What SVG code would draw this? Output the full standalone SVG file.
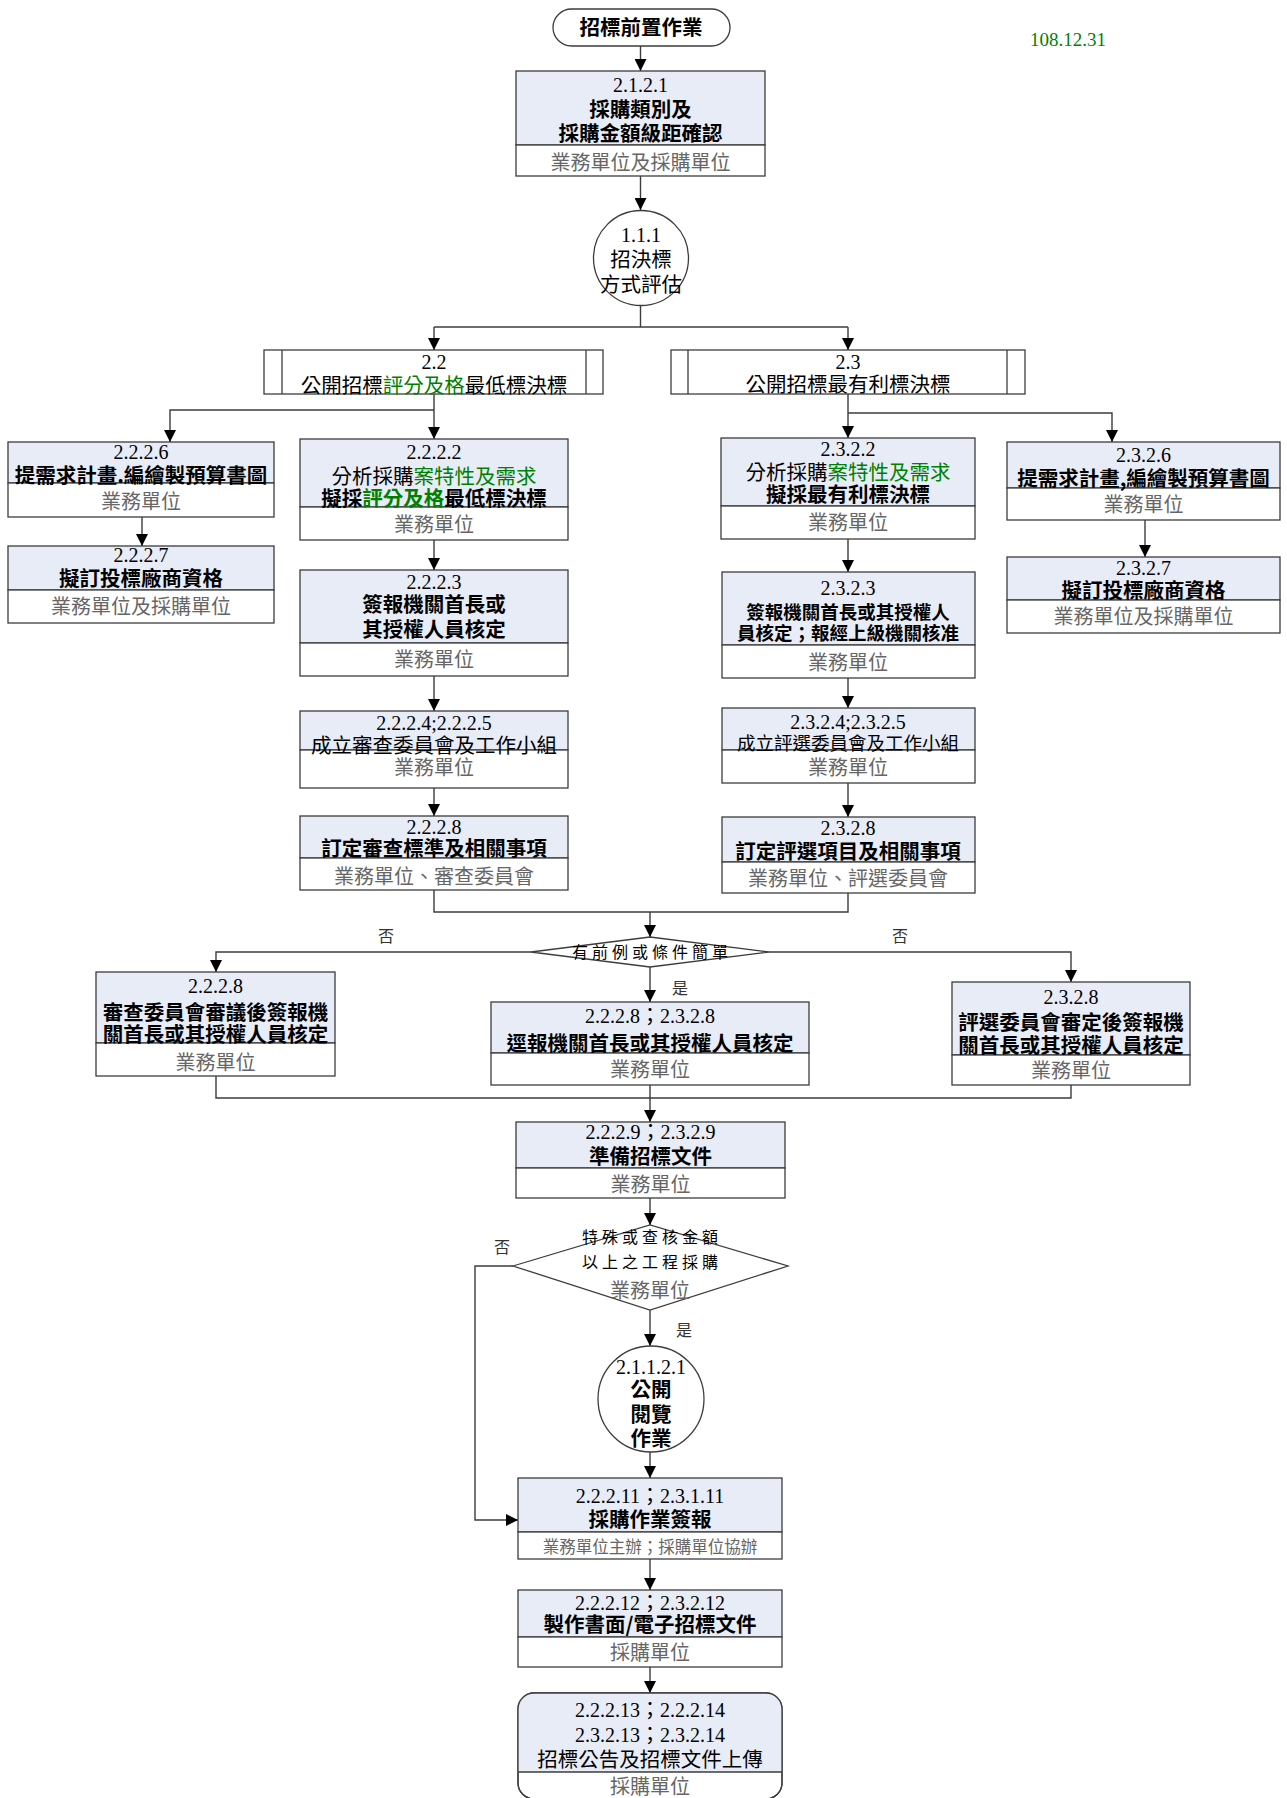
<svg xmlns="http://www.w3.org/2000/svg" width="1287" height="1798" viewBox="0 0 1287 1798">
<style>
.bg{fill:#ffffff}
.top{fill:#E7ECF7;stroke:#3c3c3c;stroke-width:1.3}
.bot{fill:#ffffff;stroke:#3c3c3c;stroke-width:1.3}
.frm{fill:none;stroke:#3c3c3c;stroke-width:1.3}
.ln{fill:none;stroke:#3c3c3c;stroke-width:1.4}
.ar{fill:none;stroke:#3c3c3c;stroke-width:1.4;marker-end:url(#ah)}
text{text-anchor:middle}
.n{font-family:"Liberation Serif","Noto Sans CJK TC",serif;font-size:20px;fill:#000}
.t{font-family:"Noto Sans CJK TC","Liberation Sans",sans-serif;font-size:20.5px;fill:#000}
.b{font-weight:bold}
.s{font-size:18.5px}
.u{font-family:"Noto Sans CJK TC","Liberation Sans",sans-serif;font-size:20px;fill:#666}
.us{font-size:16.5px}
.g{fill:#008000}
.d{font-family:"Noto Sans CJK TC","Liberation Serif",sans-serif;font-size:16px;letter-spacing:4px;fill:#000}
.lb{font-family:"Noto Sans CJK TC","Liberation Serif",sans-serif;font-size:16px;fill:#333}
</style>
<defs>
<marker id="ah" viewBox="0 0 10 10" refX="10" refY="5" markerWidth="12" markerHeight="12" markerUnits="userSpaceOnUse" orient="auto">
<path d="M0,0 L10,5 L0,10 z" fill="#000"/>
</marker>
</defs>
<rect class="bg" x="0" y="0" width="1287" height="1798"/>

<text x="1068" y="46" font-family="Liberation Serif, serif" font-size="19" fill="#008000">108.12.31</text>

<g id="connectors">
<path class="ar" d="M640.5,46 V71"/>
<path class="ar" d="M640.5,176 V210"/>
<path class="ln" d="M640.5,305 V327"/>
<path class="ln" d="M434,327 H848"/>
<path class="ar" d="M434,327 V350"/>
<path class="ar" d="M848,327 V350"/>
<path class="ar" d="M434,394 V439"/>
<path class="ar" d="M434,410 H170 V442"/>
<path class="ar" d="M848,394 V438"/>
<path class="ar" d="M848,413 H1112 V442"/>
<path class="ar" d="M142,517 V546"/>
<path class="ar" d="M1145,520 V557"/>
<path class="ar" d="M434,540 V570"/>
<path class="ar" d="M434,676 V711"/>
<path class="ar" d="M434,788 V816"/>
<path class="ar" d="M848,539 V572"/>
<path class="ar" d="M848,678 V708"/>
<path class="ar" d="M848,783 V817"/>
<path class="ln" d="M434,890 V912 H848 V893"/>
<path class="ar" d="M650,912 V937"/>
<path class="ar" d="M531,952 H216 V972"/>
<path class="ar" d="M769,952 H1071 V982"/>
<path class="ar" d="M650,967 V1002"/>
<path class="ln" d="M216,1076 V1098 H1071 V1085"/>
<path class="ar" d="M650,1085 V1122"/>
<path class="ar" d="M650,1198 V1225"/>
<path class="ar" d="M513,1266 H475 V1520 H518"/>
<path class="ar" d="M650,1310 V1346"/>
<path class="ar" d="M650,1452 V1478"/>
<path class="ar" d="M650,1559 V1590"/>
<path class="ar" d="M650,1667 V1693"/>
<text class="lb" x="386" y="942">否</text>
<text class="lb" x="900" y="942">否</text>
<text class="lb" x="680" y="994">是</text>
<text class="lb" x="502" y="1253">否</text>
<text class="lb" x="684" y="1336">是</text>
</g>

<g id="start">
<rect class="frm" x="553" y="9" width="177" height="37" rx="18.5" fill="#fff"/>
<text class="t b" x="641" y="35">招標前置作業</text>
</g>

<g id="n2121">
<rect class="top" x="516" y="71" width="249" height="74"/>
<rect class="bot" x="516" y="145" width="249" height="31"/>
<text class="n" x="640.5" y="92">2.1.2.1</text>
<text class="t b" x="640.5" y="117">採購類別及</text>
<text class="t b" x="640.5" y="141">採購金額級距確認</text>
<text class="u" x="640.5" y="170">業務單位及採購單位</text>
</g>

<g id="c111">
<circle class="bot" cx="641" cy="258" r="47.5"/>
<text class="n" x="641" y="242">1.1.1</text>
<text class="t" x="641" y="267">招決標</text>
<text class="t" x="641" y="292">方式評估</text>
</g>

<g id="n22">
<rect class="bot" x="264" y="350" width="339" height="44"/>
<line class="frm" x1="282" y1="350" x2="282" y2="394"/>
<line class="frm" x1="586" y1="350" x2="586" y2="394"/>
<text class="n" x="434" y="369">2.2</text>
<text class="t" x="434" y="393">公開招標<tspan class="g">評分及格</tspan>最低標決標</text>
</g>

<g id="n23">
<rect class="bot" x="671" y="350" width="354" height="44"/>
<line class="frm" x1="688" y1="350" x2="688" y2="394"/>
<line class="frm" x1="1007" y1="350" x2="1007" y2="394"/>
<text class="n" x="848" y="369">2.3</text>
<text class="t" x="848" y="392">公開招標最有利標決標</text>
</g>

<g id="n2226">
<rect class="top" x="8" y="442" width="266" height="41"/>
<rect class="bot" x="8" y="483" width="266" height="34"/>
<text class="n" x="141" y="459">2.2.2.6</text>
<text class="t b" x="141" y="483">提需求計畫.編繪製預算書圖</text>
<text class="u" x="141" y="509">業務單位</text>
</g>

<g id="n2227">
<rect class="top" x="8" y="546" width="266" height="44"/>
<rect class="bot" x="8" y="590" width="266" height="33"/>
<text class="n" x="141" y="562">2.2.2.7</text>
<text class="t b" x="141" y="586">擬訂投標廠商資格</text>
<text class="u" x="141" y="614">業務單位及採購單位</text>
</g>

<g id="n2222">
<rect class="top" x="300" y="439" width="268" height="68"/>
<rect class="bot" x="300" y="507" width="268" height="33"/>
<text class="n" x="434" y="459">2.2.2.2</text>
<text class="t" x="434" y="484">分析採購<tspan class="g">案特性及需求</tspan></text>
<text class="t b" x="434" y="506">擬採<tspan class="g">評分及格</tspan>最低標決標</text>
<text class="u" x="434" y="532">業務單位</text>
</g>

<g id="n2223">
<rect class="top" x="300" y="570" width="268" height="73"/>
<rect class="bot" x="300" y="643" width="268" height="33"/>
<text class="n" x="434" y="589">2.2.2.3</text>
<text class="t b" x="434" y="612">簽報機關首長或</text>
<text class="t b" x="434" y="637">其授權人員核定</text>
<text class="u" x="434" y="667">業務單位</text>
</g>

<g id="n2224">
<rect class="top" x="300" y="711" width="268" height="39"/>
<rect class="bot" x="300" y="750" width="268" height="38"/>
<text class="n" x="434" y="730">2.2.2.4;2.2.2.5</text>
<text class="t" x="434" y="753">成立審查委員會及工作小組</text>
<text class="u" x="434" y="775">業務單位</text>
</g>

<g id="n2228">
<rect class="top" x="300" y="816" width="268" height="42"/>
<rect class="bot" x="300" y="858" width="268" height="32"/>
<text class="n" x="434" y="834">2.2.2.8</text>
<text class="t b" x="434" y="856">訂定審查標準及相關事項</text>
<text class="u" x="434" y="884">業務單位、審查委員會</text>
</g>

<g id="n2322">
<rect class="top" x="721" y="438" width="254" height="68"/>
<rect class="bot" x="721" y="506" width="254" height="33"/>
<text class="n" x="848" y="456">2.3.2.2</text>
<text class="t" x="848" y="480">分析採購<tspan class="g">案特性及需求</tspan></text>
<text class="t b" x="848" y="502">擬採最有利標決標</text>
<text class="u" x="848" y="530">業務單位</text>
</g>

<g id="n2323">
<rect class="top" x="722" y="572" width="253" height="73"/>
<rect class="bot" x="722" y="645" width="253" height="33"/>
<text class="n" x="848" y="595">2.3.2.3</text>
<text class="t b s" x="848" y="619">簽報機關首長或其授權人</text>
<text class="t b s" x="848" y="640">員核定；報經上級機關核准</text>
<text class="u" x="848" y="670">業務單位</text>
</g>

<g id="n2324">
<rect class="top" x="722" y="708" width="253" height="42"/>
<rect class="bot" x="722" y="750" width="253" height="33"/>
<text class="n" x="848" y="729">2.3.2.4;2.3.2.5</text>
<text class="t s" x="848" y="750">成立評選委員會及工作小組</text>
<text class="u" x="848" y="775">業務單位</text>
</g>

<g id="n2328">
<rect class="top" x="722" y="817" width="253" height="45"/>
<rect class="bot" x="722" y="862" width="253" height="31"/>
<text class="n" x="848" y="835">2.3.2.8</text>
<text class="t b" x="848" y="859">訂定評選項目及相關事項</text>
<text class="u" x="848" y="886">業務單位、評選委員會</text>
</g>

<g id="n2326">
<rect class="top" x="1007" y="442" width="273" height="46"/>
<rect class="bot" x="1007" y="488" width="273" height="32"/>
<text class="n" x="1143.5" y="462">2.3.2.6</text>
<text class="t b" x="1143.5" y="486">提需求計畫,編繪製預算書圖</text>
<text class="u" x="1143.5" y="512">業務單位</text>
</g>

<g id="n2327">
<rect class="top" x="1007" y="557" width="273" height="43"/>
<rect class="bot" x="1007" y="600" width="273" height="33"/>
<text class="n" x="1143.5" y="575">2.3.2.7</text>
<text class="t b" x="1143.5" y="598">擬訂投標廠商資格</text>
<text class="u" x="1143.5" y="624">業務單位及採購單位</text>
</g>

<g id="d1">
<polygon class="bot" points="531,952 650,937 769,952 650,967"/>
<text class="d" x="652" y="958">有前例或條件簡單</text>
</g>

<g id="n2228b">
<rect class="top" x="96" y="972" width="239" height="71"/>
<rect class="bot" x="96" y="1043" width="239" height="33"/>
<text class="n" x="215.5" y="993">2.2.2.8</text>
<text class="t b" x="215.5" y="1020">審查委員會審議後簽報機</text>
<text class="t b" x="215.5" y="1042">關首長或其授權人員核定</text>
<text class="u" x="215.5" y="1070">業務單位</text>
</g>

<g id="nmid">
<rect class="top" x="491" y="1002" width="318" height="51"/>
<rect class="bot" x="491" y="1053" width="318" height="32"/>
<text class="n" x="650" y="1023">2.2.2.8；2.3.2.8</text>
<text class="t b" x="650" y="1051">逕報機關首長或其授權人員核定</text>
<text class="u" x="650" y="1077">業務單位</text>
</g>

<g id="n2328b">
<rect class="top" x="952" y="982" width="238" height="73"/>
<rect class="bot" x="952" y="1055" width="238" height="30"/>
<text class="n" x="1071" y="1004">2.3.2.8</text>
<text class="t b" x="1071" y="1030">評選委員會審定後簽報機</text>
<text class="t b" x="1071" y="1053">關首長或其授權人員核定</text>
<text class="u" x="1071" y="1078">業務單位</text>
</g>

<g id="n2229">
<rect class="top" x="516" y="1122" width="269" height="46"/>
<rect class="bot" x="516" y="1168" width="269" height="30"/>
<text class="n" x="650.5" y="1139">2.2.2.9；2.3.2.9</text>
<text class="t b" x="650.5" y="1164">準備招標文件</text>
<text class="u" x="650.5" y="1192">業務單位</text>
</g>

<g id="d2">
<polygon class="bot" points="513,1266 650,1225 788,1266 650,1310"/>
<text class="d" x="652" y="1243">特殊或查核金額</text>
<text class="d" x="652" y="1268">以上之工程採購</text>
<text class="u" x="650" y="1298">業務單位</text>
</g>

<g id="c21121">
<circle class="bot" cx="651" cy="1399" r="53"/>
<text class="n" x="651" y="1374">2.1.1.2.1</text>
<text class="t b" x="651" y="1397">公開</text>
<text class="t b" x="651" y="1422">閱覽</text>
<text class="t b" x="651" y="1446">作業</text>
</g>

<g id="n22211">
<rect class="top" x="518" y="1478" width="264" height="54"/>
<rect class="bot" x="518" y="1532" width="264" height="27"/>
<text class="n" x="650" y="1503">2.2.2.11；2.3.1.11</text>
<text class="t b" x="650" y="1527">採購作業簽報</text>
<text class="u us" x="650" y="1553">業務單位主辦；採購單位協辦</text>
</g>

<g id="n22212">
<rect class="top" x="518" y="1590" width="264" height="47"/>
<rect class="bot" x="518" y="1637" width="264" height="30"/>
<text class="n" x="650" y="1610">2.2.2.12；2.3.2.12</text>
<text class="t b" x="650" y="1632">製作書面/電子招標文件</text>
<text class="u" x="650" y="1660">採購單位</text>
</g>

<g id="n22213">
<rect class="bot" x="518" y="1693" width="264" height="106" rx="16"/>
<path d="M518,1772 V1709 Q518,1693 534,1693 H766 Q782,1693 782,1709 V1772 Z" fill="#E7ECF7"/>
<line class="frm" x1="518" y1="1772" x2="782" y2="1772"/>
<rect class="frm" x="518" y="1693" width="264" height="106" rx="16"/>
<text class="n" x="650" y="1717">2.2.2.13；2.2.2.14</text>
<text class="n" x="650" y="1742">2.3.2.13；2.3.2.14</text>
<text class="t" x="650" y="1767">招標公告及招標文件上傳</text>
<text class="u" x="650" y="1794">採購單位</text>
</g>
</svg>
